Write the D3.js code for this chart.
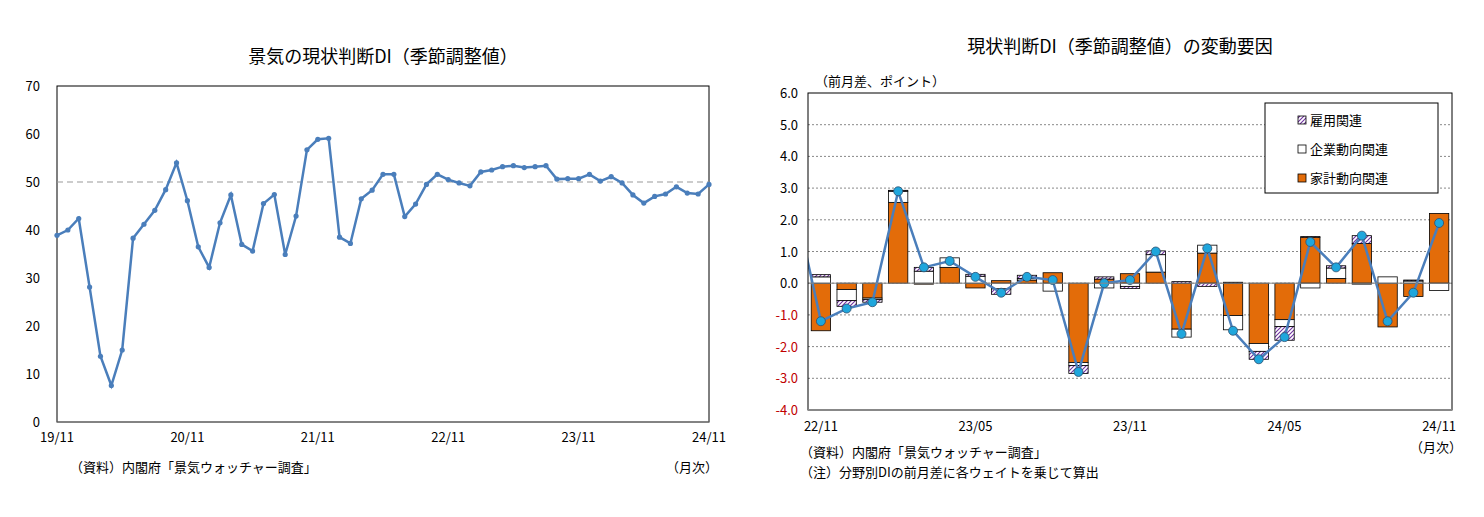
<!DOCTYPE html>
<html><head><meta charset="utf-8">
<script src="https://cdn.jsdelivr.net/npm/d3@7"></script>
<style>body{margin:0;background:#fff}text{font-family:"Noto Sans CJK JP","Noto Sans",sans-serif}</style>
</head><body>
<svg id="c" width="1484" height="517"></svg>
<script>
// Left chart data: 19/11 .. 24/11 monthly
const leftValues = [38.9,40.0,42.4,28.1,13.7,7.6,15.0,38.3,41.2,44.1,48.4,54.0,46.1,36.5,32.2,41.5,47.3,37.0,35.6,45.5,47.4,34.9,42.9,56.7,58.9,59.1,38.5,37.2,46.5,48.3,51.6,51.6,42.8,45.4,49.5,51.6,50.5,49.8,49.2,52.1,52.5,53.2,53.4,53.0,53.2,53.4,50.6,50.7,50.7,51.6,50.2,51.1,49.8,47.3,45.6,47.0,47.5,49.0,47.7,47.5,49.5];
const leftTicks = ["19/11","20/11","21/11","22/11","23/11","24/11"];
// Right chart data: 22/11 .. 24/11
const rightCats = ["22/11","22/12","23/01","23/02","23/03","23/04","23/05","23/06","23/07","23/08","23/09","23/10","23/11","23/12","24/01","24/02","24/03","24/04","24/05","24/06","24/07","24/08","24/09","24/10","24/11"];
const household = [-1.5,-0.2,-0.47,2.55,-0.03,0.5,-0.15,0.08,0.1,0.33,-2.5,0.13,0.3,0.35,-1.45,0.95,-1.02,-1.9,-1.15,1.45,0.15,1.25,-1.38,-0.42,2.2];
const business = [0.2,-0.35,-0.05,0.35,0.38,0.3,0.22,-0.18,0.05,-0.25,-0.1,-0.15,-0.1,0.55,-0.25,0.25,-0.45,-0.25,-0.22,-0.15,0.33,-0.03,0.2,0.07,-0.23];
const employment = [0.07,-0.18,-0.08,0.03,0.12,0.0,0.06,-0.17,0.1,0.0,-0.25,0.07,-0.07,0.12,0.05,-0.1,0.03,-0.25,-0.43,0.02,0.07,0.25,0.0,0.03,0.0];
const total = [-1.2,-0.8,-0.6,2.9,0.5,0.7,0.2,-0.3,0.2,0.1,-2.8,0.0,0.1,1.0,-1.6,1.1,-1.5,-2.4,-1.7,1.3,0.5,1.5,-1.2,-0.3,1.9];
const prevTotal = 2.5; // 22/10, outside plot (clipped)
const rightTicks = ["22/11","23/05","23/11","24/05","24/11"];
const rightYTicks = [6,5,4,3,2,1,0,-1,-2,-3,-4];

const svg = d3.select("#c");
const defs = svg.append("defs");
const pat = defs.append("pattern").attr("id","hatch").attr("patternUnits","userSpaceOnUse").attr("width",4).attr("height",4);
pat.append("rect").attr("width",4).attr("height",4).attr("fill","#fff");
pat.append("path").attr("d","M-1,5 L5,-1 M3,5 L5,3 M-1,1 L1,-1").attr("stroke","#7030A0").attr("stroke-width",1.1);

// ---- LEFT ----
const L = {l:57,r:709,t:86,b:422};
const xl = d3.scaleLinear().domain([0,leftValues.length-1]).range([L.l,L.r]);
const yl = d3.scaleLinear().domain([0,70]).range([L.b,L.t]);
svg.append("text").attr("x",383).attr("y",63).attr("text-anchor","middle").attr("font-size",18).text("景気の現状判断DI（季節調整値）");
svg.append("rect").attr("x",L.l).attr("y",L.t).attr("width",L.r-L.l).attr("height",L.b-L.t).attr("fill","none").attr("stroke","#000").attr("stroke-width",1);
svg.append("line").attr("x1",L.l).attr("x2",L.r).attr("y1",yl(50)).attr("y2",yl(50)).attr("stroke","#999").attr("stroke-dasharray","6,4");
svg.append("line").attr("x1",L.l).attr("x2",L.r).attr("y1",L.b).attr("y2",L.b).attr("stroke","#888");
svg.append("g").selectAll("text").data(d3.range(0,71,10)).join("text").attr("x",40).attr("y",d=>yl(d)+5).attr("text-anchor","end").attr("font-size",13).text(d=>d);
svg.append("g").selectAll("text").data(leftTicks).join("text").attr("x",(d,i)=>xl(i*12)).attr("y",442).attr("text-anchor","middle").attr("font-size",13).text(d=>d);
svg.append("path").datum(leftValues).attr("d",d3.line().x((d,i)=>xl(i)).y(d=>yl(d))).attr("fill","none").attr("stroke","#4A7EBB").attr("stroke-width",2.5);
svg.append("g").selectAll("circle").data(leftValues).join("circle").attr("cx",(d,i)=>xl(i)).attr("cy",d=>yl(d)).attr("r",2.6).attr("fill","#4A7EBB");
svg.append("text").attr("x",70).attr("y",472).attr("font-size",13).text("（資料）内閣府「景気ウォッチャー調査」");
svg.append("text").attr("x",718).attr("y",472).attr("text-anchor","end").attr("font-size",13).text("（月次）");

// ---- RIGHT ----
const R = {l:808,r:1452,t:93,b:410};
const xr = d3.scaleBand().domain(rightCats).range([R.l,R.r]).paddingInner(0.25).paddingOuter(0.125);
const yr = d3.scaleLinear().domain([-4,6]).range([R.b,R.t]);
svg.append("text").attr("x",1120).attr("y",53).attr("text-anchor","middle").attr("font-size",18).text("現状判断DI（季節調整値）の変動要因");
svg.append("text").attr("x",815).attr("y",86).attr("font-size",13).text("（前月差、ポイント）");
svg.append("g").selectAll("line").data(rightYTicks.filter(d=>d>-4&&d<6)).join("line").attr("x1",R.l).attr("x2",R.r).attr("y1",d=>yr(d)).attr("y2",d=>yr(d)).attr("stroke","#888").attr("stroke-dasharray","2,2");
svg.append("g").selectAll("text").data(rightYTicks).join("text").attr("x",798).attr("y",d=>yr(d)+5).attr("text-anchor","end").attr("font-size",13).attr("fill",d=>d<0?"#C00000":"#000").text(d=>d.toFixed(1));
// stacked bars
const stackSeries = [
  {v:household, fill:"#E36C09"},
  {v:business, fill:"#fff"},
  {v:employment, fill:"url(#hatch)"}];
const gb = svg.append("g");
rightCats.forEach((c,i)=>{
  let pos=0, neg=0;
  stackSeries.forEach(s=>{
    const v=s.v[i]; if(v===0) return;
    let y0,y1;
    if(v>0){y0=pos;y1=pos+v;pos=y1;} else {y0=neg;y1=neg+v;neg=y1;}
    gb.append("rect").attr("x",xr(c)).attr("width",xr.bandwidth())
      .attr("y",yr(Math.max(y0,y1))).attr("height",Math.abs(yr(y0)-yr(y1)))
      .attr("fill",s.fill).attr("stroke","#000").attr("stroke-width",0.8);
  });
});
defs.append("clipPath").attr("id","rclip").append("rect").attr("x",R.l).attr("y",R.t).attr("width",R.r-R.l).attr("height",R.b-R.t);
const cx = c=>xr(c)+xr.bandwidth()/2;
const linePts = [[cx(rightCats[0])-xr.step(),prevTotal]].concat(total.map((d,i)=>[cx(rightCats[i]),d]));
svg.append("path").datum(linePts).attr("clip-path","url(#rclip)").attr("d",d3.line().x(d=>d[0]).y(d=>yr(d[1]))).attr("fill","none").attr("stroke","#4A7EBB").attr("stroke-width",2.5);
svg.append("g").selectAll("circle").data(total).join("circle").attr("cx",(d,i)=>cx(rightCats[i])).attr("cy",d=>yr(d)).attr("r",4.5).attr("fill","#1FA6DC").attr("stroke","#2F4F6F").attr("stroke-width",0.8);
svg.append("line").attr("x1",R.l).attr("x2",R.r).attr("y1",yr(0)).attr("y2",yr(0)).attr("stroke","#888").attr("stroke-width",1);
svg.append("rect").attr("x",R.l).attr("y",R.t).attr("width",R.r-R.l).attr("height",R.b-R.t).attr("fill","none").attr("stroke","#000");
svg.append("line").attr("x1",R.l).attr("x2",R.r).attr("y1",R.b).attr("y2",R.b).attr("stroke","#888").attr("stroke-width",2);
svg.append("g").selectAll("text").data(rightTicks).join("text").attr("x",d=>cx(d)).attr("y",431).attr("text-anchor","middle").attr("font-size",13).text(d=>d);
svg.append("text").attr("x",1462).attr("y",452).attr("text-anchor","end").attr("font-size",13).text("（月次）");
svg.append("text").attr("x",800).attr("y",457).attr("font-size",13).text("（資料）内閣府「景気ウォッチャー調査」");
svg.append("text").attr("x",800).attr("y",477).attr("font-size",13).text("（注）分野別DIの前月差に各ウェイトを乗じて算出");
// legend
const lg = svg.append("g");
lg.append("rect").attr("x",1265).attr("y",103).attr("width",173).attr("height",90).attr("fill","#fff").attr("stroke","#000");
const legItems = [["雇用関連","url(#hatch)"],["企業動向関連","#fff"],["家計動向関連","#E36C09"]];
legItems.forEach((d,i)=>{
  const y = 121+i*29;
  lg.append("rect").attr("x",1298).attr("y",y-5).attr("width",8).attr("height",8).attr("fill",d[1]).attr("stroke","#000").attr("stroke-width",0.8);
  lg.append("text").attr("x",1310).attr("y",y+4).attr("font-size",13).text(d[0]);
});
</script>
</body></html>
